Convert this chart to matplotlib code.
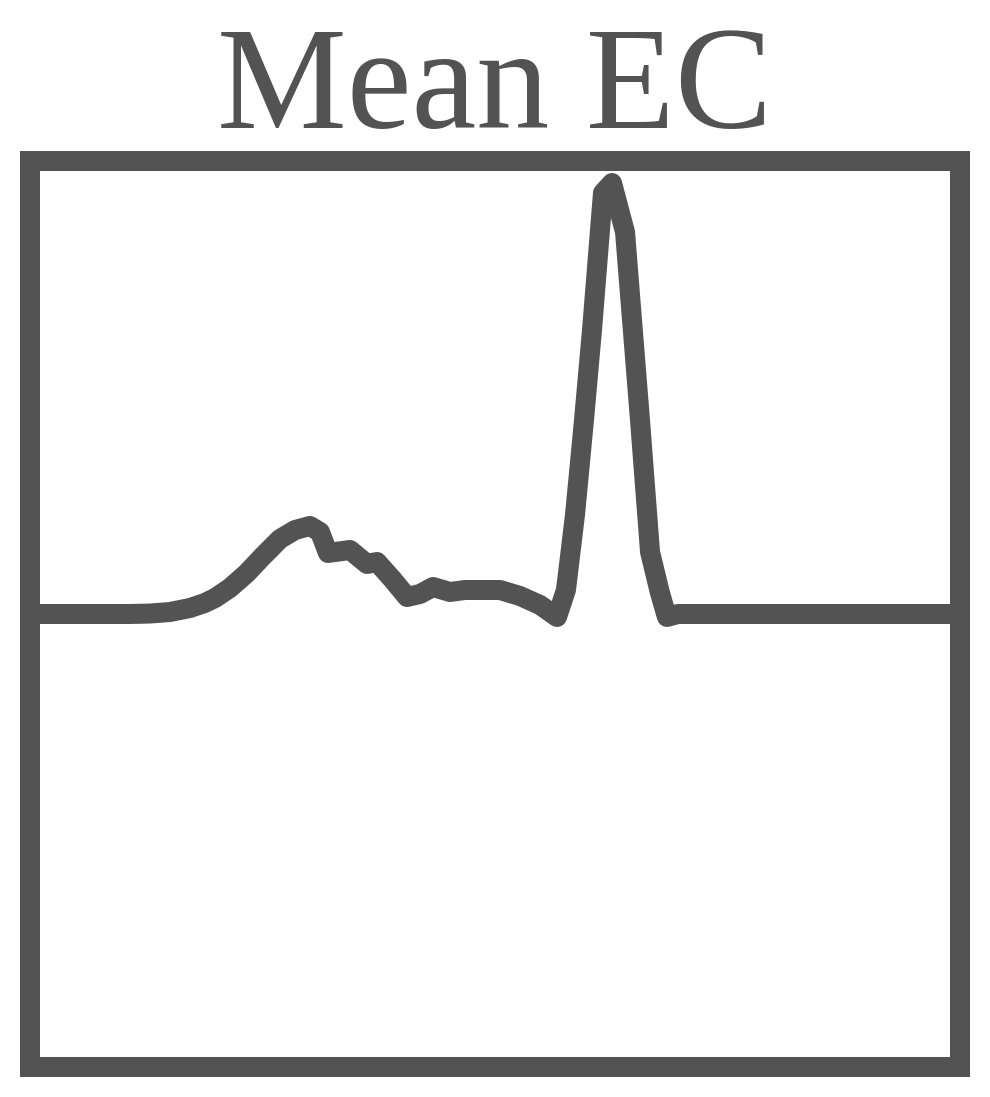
import matplotlib
matplotlib.use("Agg")
import matplotlib.pyplot as plt

GRAY = "#535353"

# normalised time (0..1) and mean signal value
t = [0.0000, 0.1075, 0.1290, 0.1505, 0.1720, 0.1880, 0.1990, 0.2150, 0.2333, 0.2495,
     0.2688, 0.2850, 0.3010, 0.3118, 0.3204, 0.3441, 0.3624, 0.3731, 0.3903, 0.4054,
     0.4194, 0.4333, 0.4516, 0.4677, 0.5054, 0.5269, 0.5484, 0.5667, 0.5763, 0.5860,
     0.5957, 0.6043, 0.6161, 0.6258, 0.6398, 0.6559, 0.6667, 0.6774, 0.6849, 0.6968,
     1.0000]
y = [0.0000, 0.0000, 0.0010, 0.0044, 0.0132, 0.0243, 0.0353, 0.0574, 0.0905, 0.1258,
     0.1656, 0.1854, 0.1943, 0.1810, 0.1347, 0.1413, 0.1104, 0.1148, 0.0751, 0.0375,
     0.0442, 0.0596, 0.0486, 0.0530, 0.0530, 0.0397, 0.0199, -0.0066, 0.0530, 0.2185,
     0.4283, 0.6269, 0.9294, 0.9514, 0.8433, 0.4283, 0.1369, 0.0464, -0.0066, 0.0000,
     0.0000]

fig = plt.figure(figsize=(9.9, 10.97), dpi=100)
ax = fig.add_axes([30 / 990, 30 / 1097, 930 / 990, 906 / 1097])

ax.plot(t, y, color=GRAY, linewidth=14.4, solid_joinstyle="round", solid_capstyle="round")
ax.set_xlim(0, 1)
ax.set_ylim(-1, 1)
ax.set_xticks([])
ax.set_yticks([])
for sp in ax.spines.values():
    sp.set_linewidth(14.4)
    sp.set_color(GRAY)
    sp.set_zorder(3)

fig.text(0.5, (1097 - 128) / 1097, "Mean EC", ha="center", va="baseline",
         fontsize=105, color=GRAY, family="Liberation Serif")

fig.savefig("out.png", dpi=100, facecolor="white")
